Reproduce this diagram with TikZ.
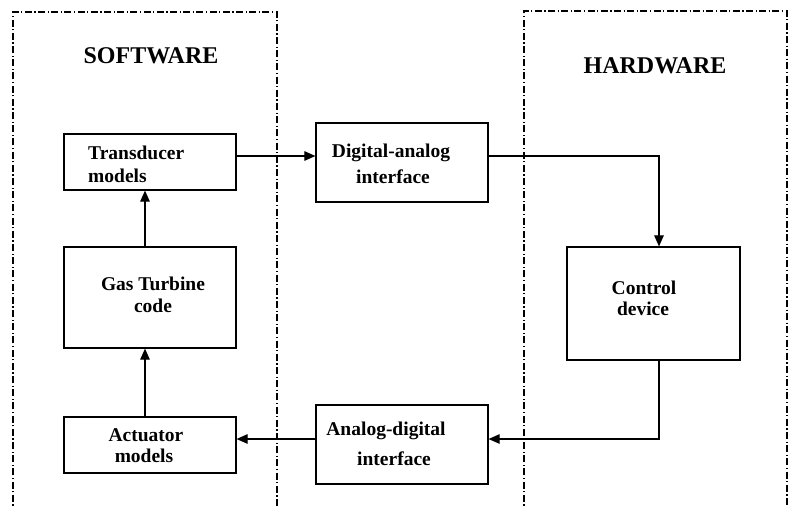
\documentclass[tikz,border=0pt]{standalone}
\usepackage{fontspec}
\setmainfont{Liberation Serif}
\usetikzlibrary{arrows.meta}
\begin{document}
\begin{tikzpicture}[x=1pt,y=-1pt,
  box/.style={draw,line width=1.2pt,minimum width=172pt,inner sep=0pt},
  lbl/.style={font=\bfseries\fontsize{19.5}{22}\selectfont,inner sep=0pt,anchor=base},
  lblw/.style={lbl,anchor=base west},
  head/.style={font=\bfseries\fontsize{24}{28}\selectfont,inner sep=0pt,anchor=base},
  region/.style={line width=1.3pt,dash pattern=on 7pt off 2.5pt on 1.2pt off 2.5pt},
  arr/.style={line width=1.1pt,-{Triangle[length=11pt,width=9.5pt]}}]
\useasboundingbox (0,0) rectangle (788,507);
\fill[white] (0,0) rectangle (788,507);

% regions
\draw[region] (13,515) -- (13,12) -- (277,12) -- (277,515);
\draw[region] (524,515) -- (524,11) -- (787,11) -- (787,515);

\node[head] (sw) at (151,63) {SOFTWARE};
\node[head] (hw) at (655,73) {HARDWARE};

% boxes
\node[box,minimum height=56pt]  (tm) at (150,162) {};
\node[box,minimum height=79pt]  (da) at (402,162.5) {};
\node[box,minimum width=173pt,minimum height=113pt] (cd) at (653.5,303.5) {};
\node[box,minimum height=79pt]  (ad) at (402,444.5) {};
\node[box,minimum height=56pt]  (am) at (150,445) {};
\node[box,minimum height=101pt] (gt) at (150,297.5) {};

% labels
\node[lblw] (tm1) at (88,159) {Transducer};
\node[lblw] (tm2) at (88,182) {models};
\node[lbl] (da1) at (391,157) {Digital-analog};
\node[lbl] (da2) at (393,183) {interface};
\node[lbl] (cd1) at (644,294) {Control};
\node[lbl] (cd2) at (643,315) {device};
\node[lbl] (ad1) at (386,435) {Analog-digital};
\node[lbl] (ad2) at (394,465) {interface};
\node[lbl] (am1) at (146,441) {Actuator};
\node[lbl] (am2) at (144,462) {models};
\node[lbl] (gt1) at (153,290) {Gas Turbine};
\node[lbl] (gt2) at (153,312) {code};

% connectors
\draw[arr] (tm.east |- 0,156) -- (da.west |- 0,156);
\draw[arr] (da.east |- 0,156) -| (cd.north -| 659,0);
\draw[arr] (cd.south -| 659,0) |- (ad.east |- 0,439);
\draw[arr] (ad.west |- 0,439) -- (am.east |- 0,439);
\draw[arr] (am.north -| 145,0) -- (gt.south -| 145,0);
\draw[arr] (gt.north -| 145,0) -- (tm.south -| 145,0);
\end{tikzpicture}
\end{document}
